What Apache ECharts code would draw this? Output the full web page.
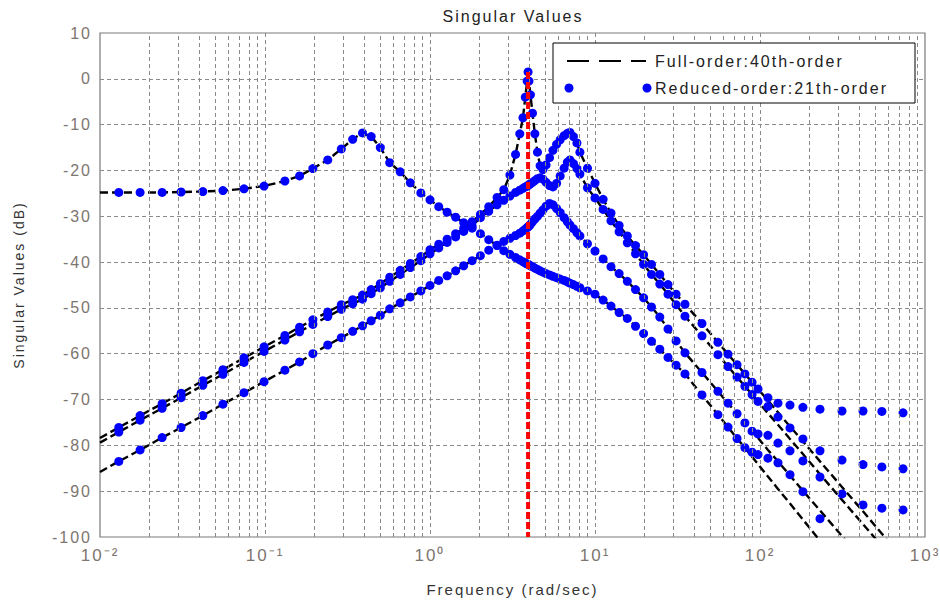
<!DOCTYPE html>
<html>
<head>
<meta charset="utf-8">
<script src="https://cdn.jsdelivr.net/npm/echarts@6/dist/echarts.min.js"></script>
<style>
html,body{margin:0;padding:0;background:#fff;}
#chart{width:940px;height:608px;}
#chart svg text{letter-spacing:2px;}
</style>
</head>
<body>
<div id="chart"></div>
<script>
// Frequency grid (rad/sec) at which the singular values were read
const freq = [0.010,0.013,0.0175,0.0238,0.031,0.042,0.0556,0.0746,0.0987,0.132,0.162,0.195,0.240,0.290,0.340,0.390,0.440,0.500,0.570,0.660,0.760,0.880,1.00,1.13,1.27,1.43,1.60,1.80,2.02,2.27,2.55,2.80,3.05,3.30,3.50,3.66,3.78,3.88,3.93,3.98,4.06,4.18,4.32,4.48,4.65,4.84,5.05,5.30,5.56,5.85,6.15,6.50,6.80,7.05,7.40,7.77,8.10,9.00,10.0,11.2,12.5,14.0,15.7,17.6,19.7,22.0,24.7,27.7,31.0,35.1,44.5,55.6,64.0,72.6,81.0,89.5,97.3,111.7,128.5,152,182,231,314,421,548,736];

// Full-order (40th) singular values, dB
const fullA = [-24.8,-24.8,-24.8,-24.8,-24.7,-24.6,-24.4,-24.0,-23.4,-22.3,-21.2,-19.6,
  -17.7,-15.3,-13.2,-11.8,-12.6,-15.0,-18.3,-20.3,-22.7,-24.9,
  -26.4,-27.9,-29.1,-30.2,-31.4,-32.6,-33.8,-35.1,-36.4,-37.5,-38.3,-39.0,-39.5,
  -39.9,-40.2,-40.4,-40.5,-40.6,-40.8,-41.0,-41.3,-41.6,-41.9,-42.2,-42.5,-42.8,-43.1,-43.4,-43.7,-44.0,-44.3,-44.6,-44.9,-45.3,-45.6,
  -46.3,-47.0,-48.3,-49.6,-51.0,-52.3,-54.0,-55.6,-57.3,-59.0,-60.8,-62.5,-64.4,
  -69.0,-73.3,-76.0,-78.5,-80.5,-82.5,-84.1,-86.8,-89.5,-92.7,-96.2,-100.8,-107,null,null,null];
const fullB = [-85.8,-83.5,-81.0,-78.3,-76.1,-73.5,-71.0,-68.5,-66.1,-63.6,-61.8,-60.0,
  -58.1,-56.5,-55.1,-53.9,-52.8,-51.6,-50.2,-48.9,-47.6,-46.3,
  -45.1,-44.0,-43.0,-41.9,-40.8,-39.7,-38.6,-37.4,-36.3,-35.5,-34.8,-34.2,-33.7,
  -33.2,-32.8,-32.5,-32.3,-32.1,-31.8,-31.2,-30.6,-30.0,-29.3,-28.6,-27.8,-27.2,-27.5,-28.3,-29.2,-30.3,-31.2,-31.9,-32.7,-33.6,-34.3,
  -36.0,-37.6,-39.3,-41.0,-42.5,-44.2,-46.0,-47.8,-49.8,-52.0,-54.6,-57.2,-59.8,
  -64.1,-68.2,-70.8,-73.1,-75.1,-76.9,-78.4,-81.0,-83.5,-86.6,-89.9,-94.2,-99.8,-105.1,null,null];
const fullC = [-78.4,-76.1,-73.5,-70.9,-68.6,-65.9,-63.5,-60.9,-58.5,-56.0,-54.2,-52.6,
  -50.9,-49.3,-48.2,-47.2,-46.0,-44.7,-43.3,-41.8,-40.3,-38.8,
  -37.3,-36.1,-35.0,-33.8,-32.6,-31.2,-29.6,-27.9,-25.9,-24.2,-21.0,-16.5,-12.0,
  -8.5,-4.0,-0.5,1.5,-0.5,-3.5,-7.5,-12.0,-16.0,-19.0,-19.8,-18.8,-17.2,-15.6,-14.3,-13.3,-12.4,-11.9,-11.7,-12.6,-14.0,-16.0,
  -19.5,-22.8,-26.3,-29.3,-32.0,-34.3,-36.4,-38.4,-40.5,-42.7,-44.9,-47.0,-49.2,
  -53.4,-57.5,-60.1,-62.4,-64.4,-66.2,-67.7,-70.2,-72.8,-75.9,-79.1,-83.5,-89.1,-94.4,-99.3,-104.6];
const fullD = [-79.4,-77.1,-74.5,-71.9,-69.6,-66.9,-64.5,-61.9,-59.5,-57.0,-55.2,-53.6,
  -51.9,-50.3,-49.1,-48.1,-46.9,-45.6,-44.2,-42.7,-41.2,-39.7,
  -38.2,-36.9,-35.7,-34.5,-33.3,-32.1,-30.3,-28.9,-27.5,-26.5,-25.6,-24.8,-24.3,
  -23.9,-23.6,-23.4,-23.3,-23.1,-22.9,-22.6,-22.2,-21.8,-21.6,-21.9,-22.6,-23.3,-23.6,-22.8,-21.2,-19.5,-18.2,-17.7,-18.5,-19.6,-20.8,
  -23.8,-26.0,-28.5,-31.0,-33.4,-35.8,-38.2,-40.5,-42.7,-44.8,-47.0,-49.3,-51.8,
  -56.1,-60.2,-62.8,-65.1,-67.1,-68.9,-70.4,-73.0,-75.5,-78.6,-81.9,-86.3,-91.9,-97.2,-102.0,null];

// Reduced-order (21th): dots lie on the full-order curves from freq[1] to freq[72];
// the high-frequency part (freq[73] .. freq[85]) read separately:
const redStart = 1, redTailStart = 73;
const redTailA = [-78.5,-80.5,-81.5,-82.0,-82.8,-83.8,-86.4,-90.1,-96.0,null,null,null,null];
const redTailB = [-73.1,-75.1,-76.9,-77.5,-77.8,-79.5,-81.2,-83.4,-86.9,-90.6,-93.0,-93.7,-94.1];
const redTailC = [-62.4,-64.4,-66.2,-67.7,-69.6,-70.8,-71.2,-71.7,-72.1,-72.5,-72.5,-72.6,-72.9];
const redTailD = [-65.1,-67.1,-68.9,-70.4,-71.5,-73.8,-76.2,-78.6,-81.2,-83.2,-84.2,-84.7,-85.1];

// Resonance marker (red dashed line)
const peakFreq = 3.93;
const peakDb = [1.5, -100];

const xTickLabels = {'-2':'10\u207B\u00B2','-1':'10\u207B\u00B9','0':'10\u2070','1':'10\u00B9','2':'10\u00B2','3':'10\u00B3'};
const minorDecades = [0.01,0.1,1,10,100];
const minorMant = [2,3,4,5,6,7,8,9];
const legendLabels = ['Full-order:40th-order','Reduced-order:21th-order'];

const FONT = 'Liberation Sans, Arial, sans-serif';

function pairs(fx, vals){ return fx.map((f,i)=>[f, vals[i]]); }
function reduced(full, tail){
  const out = [];
  for(let i=redStart;i<redTailStart;i++) out.push([freq[i], full[i]]);
  for(let j=0;j<tail.length;j++) out.push([freq[redTailStart+j], tail[j]]);
  return out;
}
const minorTicks = [];
minorDecades.forEach(d=>minorMant.forEach(m=>minorTicks.push(+(d*m).toPrecision(6))));

const fullStyle = {color:'#000', width:2.4, type:[8,4]};
const fullSeries = [fullA,fullB,fullC,fullD].map(v=>({
  type:'line', name:legendLabels[0], data:pairs(freq,v), symbol:'none',
  lineStyle:fullStyle, itemStyle:{color:'#000'}, connectNulls:false, clip:true, z:3, silent:true
}));
const redSeries = [[fullA,redTailA],[fullB,redTailB],[fullC,redTailC],[fullD,redTailD]].map(p=>({
  type:'scatter', name:legendLabels[1], data:reduced(p[0],p[1]), symbol:'circle', symbolSize:9,
  itemStyle:{color:'#0000ff', opacity:1}, clip:true, z:4, silent:true
}));

const chart = echarts.init(document.getElementById('chart'), null, {renderer:'svg'});
chart.setOption({
  animation:false,
  backgroundColor:'#fff',
  title:{text:'Singular Values', left:508, top:3, textAlign:'center',
    textStyle:{fontFamily:FONT, fontSize:16, fontWeight:'normal', color:'#222'}},
  grid:{left:100, right:15, top:33, bottom:71, show:true, borderColor:'#7a7a7a', borderWidth:1.2,
    backgroundColor:'#fff', containLabel:false, outerBoundsMode:'none'},
  xAxis:{type:'log', logBase:10, min:0.01, max:1000,
    axisLine:{show:false}, axisTick:{show:false},
    splitLine:{show:true, showMinLine:false, showMaxLine:false, lineStyle:{color:'#8a8a8a', width:1, type:[4,3]}},
    axisLabel:{fontFamily:FONT, fontSize:17, color:'#7d7670', margin:10,
      formatter:v=>xTickLabels[String(Math.round(Math.log10(v)))] || ''},
    name:'Frequency (rad/sec)', nameLocation:'middle', nameGap:45, nameMoveOverlap:false,
    nameTextStyle:{fontFamily:FONT, fontSize:15, color:'#333'}},
  yAxis:{type:'value', min:-100, max:10, interval:10,
    axisLine:{show:false}, axisTick:{show:false},
    splitLine:{show:true, showMinLine:false, showMaxLine:false, lineStyle:{color:'#8a8a8a', width:1, type:[4,3]}},
    axisLabel:{fontFamily:FONT, fontSize:16, color:'#7d7670', margin:8},
    name:'Singular Values (dB)', nameLocation:'middle', nameGap:74, nameRotate:90, nameMoveOverlap:false,
    nameTextStyle:{fontFamily:FONT, fontSize:14, color:'#333'}},
  series:[
    {type:'line', data:[], silent:true, z:1,
      markLine:{silent:true, symbol:['none','none'], label:{show:false}, animation:false,
        lineStyle:{color:'#8a8a8a', width:1, type:[4,3]},
        data:minorTicks.map(v=>({xAxis:v}))}},
    ...fullSeries,
    ...redSeries,
    {type:'line', name:'peak', data:peakDb.map(d=>[peakFreq,d]), symbol:'none', silent:true, z:6,
      lineStyle:{color:'#ff0000', width:4, type:[7,3]}}
  ],
  graphic:[
    {type:'rect', z:100, shape:{x:553, y:43, width:362, height:60}, style:{fill:'#fff', stroke:'#000', lineWidth:1}},
    {type:'line', z:101, shape:{x1:567, y1:61, x2:646, y2:61}, style:{stroke:'#000', lineWidth:2, lineDash:[22,10]}},
    {type:'text', z:101, x:655, y:61, style:{text:legendLabels[0], fontFamily:FONT, fontSize:16, fill:'#222', verticalAlign:'middle'}},
    {type:'circle', z:101, shape:{cx:569, cy:88, r:4.5}, style:{fill:'#0000ff'}},
    {type:'circle', z:101, shape:{cx:647, cy:88, r:4.5}, style:{fill:'#0000ff'}},
    {type:'text', z:101, x:655, y:88, style:{text:legendLabels[1], fontFamily:FONT, fontSize:16, fill:'#222', verticalAlign:'middle'}}
  ]
});
</script>
</body>
</html>
